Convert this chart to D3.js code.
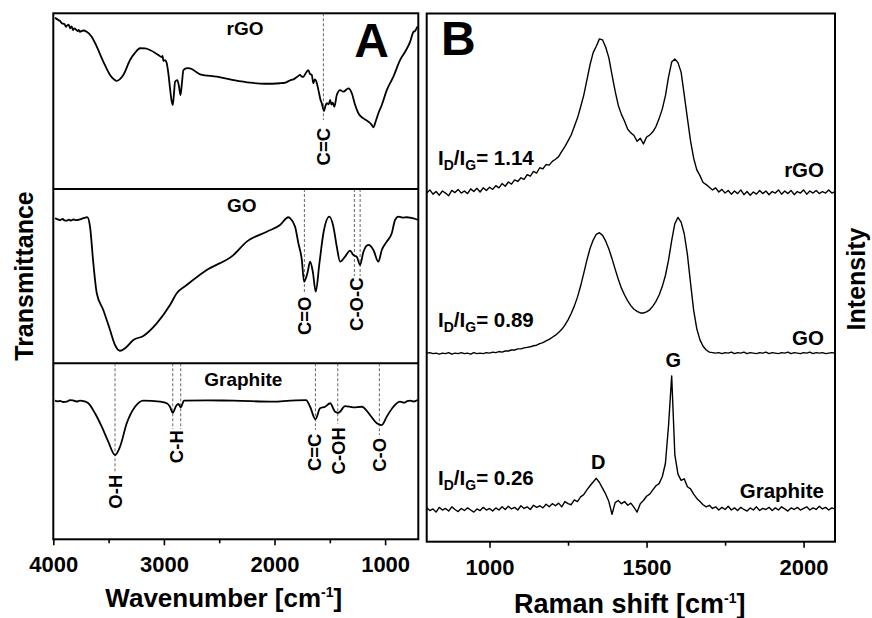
<!DOCTYPE html>
<html><head><meta charset="utf-8">
<script src="https://cdn.jsdelivr.net/npm/d3@7"></script>
<style>
body{margin:0;background:#fff}
svg{display:block}
text{font-family:"Liberation Sans",Arial,Helvetica,sans-serif;font-weight:bold;fill:#000}
</style>
</head><body>
<svg id="c" width="872" height="618"></svg>
<script>
// ---------------- DATA ----------------
// FTIR (panel A): [wavenumber cm^-1, transmittance a.u. (0-100 within each strip)]
const irRGO = [[3985,97.5],[3960,96.4],[3939,95.6],[3920,94.2],[3900,93.9],[3885,92.3],[3879,92.8],[3860,93.6],[3849,91.5],[3835,92.5],[3822,90.5],[3810,91.4],[3800,91.1],[3780,89.9],[3770,90.6],[3759,89.5],[3730,90.2],[3698,89.5],[3653,86.7],[3607,81.0],[3548,72.5],[3487,64.9],[3450,62.3],[3427,61.5],[3400,62.4],[3367,64.9],[3306,73.4],[3260,77.6],[3216,80.1],[3170,80.0],[3126,79.1],[3050,76.3],[3020,75.1],[3012,75.8],[3005,72.9],[2990,73.4],[2975,71.7],[2960,65.9],[2945,57.5],[2930,50.0],[2920,47.8],[2910,53.5],[2899,61.1],[2879,62.0],[2864,58.6],[2850,53.5],[2836,60.9],[2824,67.7],[2790,68.8],[2764,68.7],[2673,65.3],[2522,63.9],[2372,62.0],[2221,60.5],[2085,59.9],[1950,60.2],[1900,60.6],[1860,61.8],[1829,62.4],[1800,63.6],[1769,64.9],[1755,64.0],[1739,63.9],[1715,66.2],[1694,67.7],[1680,65.5],[1663,64.9],[1649,60.2],[1636,62.4],[1624,61.6],[1603,56.3],[1585,51.0],[1573,48.8],[1552,44.4],[1540,47.2],[1527,48.8],[1510,48.2],[1497,50.7],[1485,48.0],[1473,49.1],[1459,46.8],[1437,53.5],[1407,56.3],[1377,55.4],[1332,57.3],[1301,54.5],[1271,47.8],[1242,43.1],[1196,40.2],[1151,38.3],[1125,36.8],[1106,35.1],[1085,38.6],[1061,43.1],[1030,47.8],[985,56.3],[925,63.9],[865,73.4],[819,78.1],[774,83.7],[744,89.4],[730,89.9],[708,92.4]];

const irGO = [[3985,83.2],[3960,82.6],[3939,82.2],[3915,82.9],[3900,82.0],[3879,81.8],[3860,82.4],[3840,81.9],[3820,82.5],[3790,82.2],[3759,82.6],[3720,83.4],[3692,83.8],[3668,78.4],[3638,57.4],[3607,40.2],[3548,30.6],[3487,19.1],[3442,10.5],[3397,7.2],[3352,8.6],[3276,13.4],[3186,15.7],[3065,22.9],[2945,33.4],[2884,40.2],[2794,44.9],[2613,53.5],[2372,62.1],[2251,69.8],[2070,75.5],[1950,79.3],[1875,83.8],[1859,83.2],[1814,78.4],[1784,68.8],[1753,59.3],[1733,46.8],[1703,51.6],[1678,58.3],[1654,52.6],[1627,41.1],[1594,57.4],[1558,74.6],[1504,84.1],[1468,78.4],[1437,66.9],[1407,58.3],[1362,61.2],[1317,64.6],[1287,62.1],[1257,61.2],[1226,56.4],[1196,64.0],[1151,67.9],[1106,65.0],[1061,58.3],[1030,65.0],[985,69.8],[940,74.6],[910,82.2],[880,84.1],[840,83.6],[804,83.8],[770,83.5],[744,83.2],[699,82.2]];

const irGraphite = [[3985,78.8],[3960,78.4],[3939,78.6],[3910,78.0],[3879,78.2],[3850,79.1],[3822,78.9],[3790,78.3],[3759,78.8],[3720,78.4],[3683,77.3],[3623,71.6],[3562,64.0],[3503,55.5],[3442,47.9],[3397,52.6],[3336,65.9],[3261,75.3],[3186,78.8],[3035,78.2],[2974,77.3],[2945,75.3],[2920,71.9],[2890,75.7],[2869,76.9],[2848,75.0],[2818,78.8],[2600,78.9],[2372,78.8],[2010,78.2],[1859,78.8],[1715,79.1],[1678,75.3],[1630,68.2],[1588,74.4],[1543,75.3],[1497,77.3],[1452,72.5],[1422,71.9],[1362,75.7],[1287,75.0],[1211,75.3],[1136,70.6],[1075,65.9],[1030,64.9],[985,69.7],[925,75.3],[865,78.2],[830,77.6],[800,78.5],[774,78.8],[740,78.3],[708,79.1]];

// Bond assignments (wavenumbers of dashed markers and labels)
const rgoBondLines = [1558];
const rgoBondLabels = [[1558,"C=C"]];
const goBondLines = [1730, 1278, 1226];
const goBondLabels = [[1730,"C=O"],[1256,"C-O-C"]];
const graphiteBondLines = [3442, 2920, 2848, 1630, 1428, 1052];
const graphiteBondLabels = [[3442,"O-H"],[2884,"C-H"],[1642,"C=C"],[1422,"C-OH"],[1052,"C-O"]];

const irSamples = ["rGO", "GO", "Graphite"];
const irTicks = [4000, 3000, 2000, 1000];
const irMinorTicks = [3500, 2500, 1500];

// Raman (panel B): shift grid 800..2100 step 10, stacked intensity (a.u.)
const ramanShift = d3.range(800, 2101, 10);
const ramanRGO = [
66.0,66.6,65.8,66.3,65.6,66.4,66.0,65.5,66.5,66.1,
66.7,66.0,66.4,65.9,66.8,66.3,66.9,66.2,67.0,66.5,
67.1,66.7,67.4,67.0,67.8,67.3,68.1,67.7,68.5,68.2,
68.9,68.6,69.5,69.2,70.1,69.8,70.8,70.6,71.4,71.3,
72.0,72.4,72.9,73.9,74.8,75.9,77.0,78.6,80.2,82.3,
84.5,87.4,90.3,92.6,93.8,95.2,95.0,93.6,91.6,88.4,
85.3,82.6,80.9,79.6,78.1,77.4,76.9,75.8,76.4,75.3,
76.6,77.0,77.6,78.6,80.1,81.9,84.4,88.0,90.8,91.4,
90.7,88.9,84.6,80.2,75.9,72.6,70.4,69.3,68.0,67.6,
67.1,66.6,67.0,66.2,66.7,66.0,66.5,65.8,66.4,65.9,
66.6,65.7,66.3,65.6,66.2,65.8,66.5,65.9,66.4,65.7,
66.3,66.0,66.6,65.8,66.4,65.9,66.5,65.7,66.3,66.0,
66.6,65.8,66.4,66.0,66.5,65.9,66.3,66.0,66.6,66.0,
66.3];
const ramanGO = [
35.7,35.8,35.6,35.7,35.5,35.7,35.6,35.8,35.5,35.7,
35.6,35.8,35.6,35.7,35.5,35.8,35.6,35.7,35.6,35.8,
35.7,35.9,35.8,36.0,35.9,36.1,36.1,36.3,36.3,36.5,
36.5,36.7,36.8,36.9,37.1,37.2,37.5,37.7,38.0,38.3,
38.7,39.1,39.6,40.2,41.0,42.0,43.2,44.6,46.3,48.4,
50.8,53.3,55.5,57.1,58.2,58.5,58.0,56.9,55.4,53.6,
51.6,49.7,48.0,46.7,45.6,44.7,44.0,43.6,43.3,43.3,
43.5,43.9,44.6,45.5,46.7,48.3,50.4,53.3,57.0,60.2,
61.4,60.5,58.3,54.4,49.0,43.8,40.3,38.2,37.0,36.3,
35.9,35.8,35.7,35.8,35.6,35.8,35.7,35.9,35.6,35.8,
35.7,35.9,35.6,35.8,35.7,35.6,35.8,35.7,35.9,35.6,
35.8,35.7,35.6,35.8,35.7,35.9,35.6,35.8,35.7,35.6,
35.8,35.7,35.9,35.6,35.8,35.7,35.8,35.6,35.7,35.8,
35.7];
const ramanGraphite = [
6.4,5.9,6.2,5.6,6.5,6.0,6.3,5.8,6.6,6.1,
5.7,6.3,5.9,6.4,6.0,5.6,6.2,5.9,6.5,6.0,
6.3,5.8,6.4,6.0,6.6,6.1,6.7,6.2,6.5,6.0,
6.8,6.3,6.6,6.1,6.9,6.5,6.8,6.4,7.1,6.6,
7.2,6.8,7.3,6.6,7.6,7.2,7.0,7.9,7.6,8.5,
8.9,9.8,10.6,11.3,12.0,11.2,10.1,9.0,7.6,5.2,
7.4,7.8,7.2,7.6,6.9,7.3,6.5,5.6,7.2,7.8,
8.6,9.0,9.8,10.6,11.0,12.3,14.8,22.0,31.4,16.5,
12.8,11.6,11.9,10.4,10.0,9.0,8.2,7.6,7.0,6.6,
6.9,6.3,6.6,6.0,6.5,6.1,6.7,6.0,6.4,5.9,
6.5,6.1,5.8,6.4,6.0,6.6,5.9,6.3,6.1,6.5,
5.9,6.4,6.0,6.6,6.2,5.8,6.4,6.1,6.5,6.0,
6.3,6.6,6.0,6.4,6.1,6.7,6.2,6.5,6.0,6.4,
6.2];
const ramanSamples = ["rGO", "GO", "Graphite"];
const ramanRatios = ["1.14", "0.89", "0.26"];
const ramanTicks = [1000, 1500, 2000];
const ramanMinorTicks = [1250, 1750];

// ---------------- LAYOUT ----------------
const A = {l:53.3, r:418.3, edges:[13.3, 189, 363.3, 539.3]};
const B = {l:426.7, r:835, t:13.5, b:541.7};
const LAY = {
  irNameX:[245, 241.7, 243.3], irNameBase:[21.7, 23.3, 22.4],
  lineEnd:[[106.7],[105,87,87],[108.7,65.7,65.7,66.7,60.7,71.7]],
  labelY:[[133.4],[126.8,115.2],[128.4,83.4,89,87.5,91.5]],
  ramanRatioBase:[165, 327, 485], ramanNameBase:[177, 345, 498]
};

const svg = d3.select("#c");
const xA = d3.scaleLinear().domain([4000, 700]).range([A.l, A.r]);
const irData = [irRGO, irGO, irGraphite];
const irLines = [rgoBondLines, goBondLines, graphiteBondLines];
const irLabels = [rgoBondLabels, goBondLabels, graphiteBondLabels];

irData.forEach((data, i) => {
  const top = A.edges[i], bot = A.edges[i+1];
  const y = d3.scaleLinear().domain([0, 100]).range([bot, top]);
  const g = svg.append("g");
  irLines[i].forEach((wn, j) => {
    g.append("line").attr("x1", xA(wn)).attr("x2", xA(wn))
      .attr("y1", top).attr("y2", top + LAY.lineEnd[i][j])
      .attr("stroke", "#555").attr("stroke-width", 0.9).attr("stroke-dasharray", "3,2");
  });
  irLabels[i].forEach(([wn, lab], j) => {
    g.append("text").attr("transform", `translate(${xA(wn)},${top + LAY.labelY[i][j]}) rotate(-90)`)
      .attr("text-anchor", "middle").attr("dominant-baseline", "central")
      .style("font-size", "18.5px").text(lab);
  });
  g.append("path").datum(data)
    .attr("d", d3.line().x(d => xA(d[0])).y(d => y(d[1])).curve(d3.curveMonotoneX))
    .attr("fill", "none").attr("stroke", "#000").attr("stroke-width", 1.8).attr("stroke-linejoin", "round");
  g.append("text").attr("x", LAY.irNameX[i]).attr("y", top + LAY.irNameBase[i])
    .attr("text-anchor", "middle").style("font-size", "19px").text(irSamples[i]);
  if (i > 0) svg.append("line").attr("x1", A.l).attr("x2", A.r).attr("y1", top).attr("y2", top)
    .attr("stroke", "#000").attr("stroke-width", 2);
});
svg.append("rect").attr("x", A.l).attr("y", A.edges[0]).attr("width", A.r - A.l)
  .attr("height", A.edges[3] - A.edges[0]).attr("fill", "none").attr("stroke", "#000").attr("stroke-width", 2);

function styleAxis(g, fs) {
  g.select(".domain").remove();
  g.selectAll(".tick line").attr("stroke", "#000").attr("stroke-width", 1.6);
  g.selectAll(".tick text").style("font-size", fs + "px").attr("fill", "#000");
}
const axA = svg.append("g").attr("transform", `translate(0,${A.edges[3]})`)
  .call(d3.axisBottom(xA).tickValues(irTicks).tickSize(6).tickPadding(11).tickFormat(d3.format("d")));
styleAxis(axA, 22);
const axAm = svg.append("g").attr("transform", `translate(0,${A.edges[3]})`)
  .call(d3.axisBottom(xA).tickValues(irMinorTicks).tickSize(4).tickFormat(""));
styleAxis(axAm, 22);

svg.append("text").attr("x", 371.7).attr("y", 56.7).attr("text-anchor", "middle").style("font-size", "48px").text("A");
svg.append("text").attr("transform", "translate(33,276) rotate(-90)").attr("text-anchor", "middle")
  .style("font-size", "25px").text("Transmittance");
const tA = svg.append("text").attr("x", 223.8).attr("y", 607.3).attr("text-anchor", "middle").style("font-size", "26px");
tA.append("tspan").text("Wavenumber [cm");
tA.append("tspan").attr("dy", -10).style("font-size", "14px").text("-1");
tA.append("tspan").attr("dy", 10).text("]");

// ---------------- Panel B ----------------
const xB = d3.scaleLinear().domain([800, 2100]).range([B.l, B.r]);
const yB = d3.scaleLinear().domain([0, 100]).range([B.b, B.t]);
const ramanData = [ramanRGO, ramanGO, ramanGraphite];
ramanData.forEach((vals, i) => {
  svg.append("path").datum(vals)
    .attr("d", d3.line().x((d, k) => xB(ramanShift[k])).y(d => yB(d)))
    .attr("fill", "none").attr("stroke", "#000").attr("stroke-width", 1.4).attr("stroke-linejoin", "round");
  const t = svg.append("text").attr("x", 438).attr("y", LAY.ramanRatioBase[i]).style("font-size", "20.5px");
  t.append("tspan").text("I");
  t.append("tspan").attr("dy", 5).style("font-size", "14px").text("D");
  t.append("tspan").attr("dy", -5).text("/I");
  t.append("tspan").attr("dy", 5).style("font-size", "14px").text("G");
  t.append("tspan").attr("dy", -5).text("= " + ramanRatios[i]);
  svg.append("text").attr("x", 824).attr("y", LAY.ramanNameBase[i]).attr("text-anchor", "end")
    .style("font-size", "20.5px").text(ramanSamples[i]);
});
svg.append("text").attr("x", 598.3).attr("y", 469).attr("text-anchor", "middle").style("font-size", "20px").text("D");
svg.append("text").attr("x", 673.3).attr("y", 366.7).attr("text-anchor", "middle").style("font-size", "20px").text("G");
svg.append("rect").attr("x", B.l).attr("y", B.t).attr("width", B.r - B.l).attr("height", B.b - B.t)
  .attr("fill", "none").attr("stroke", "#000").attr("stroke-width", 2);
const axB = svg.append("g").attr("transform", `translate(0,${B.b})`)
  .call(d3.axisBottom(xB).tickValues(ramanTicks).tickSize(6).tickPadding(12).tickFormat(d3.format("d")));
styleAxis(axB, 22);
const axBm = svg.append("g").attr("transform", `translate(0,${B.b})`)
  .call(d3.axisBottom(xB).tickValues(ramanMinorTicks).tickSize(4).tickFormat(""));
styleAxis(axBm, 22);
svg.append("text").attr("x", 441).attr("y", 55).style("font-size", "48px").text("B");
svg.append("text").attr("transform", "translate(865,279) rotate(-90)").attr("text-anchor", "middle")
  .style("font-size", "25px").text("Intensity");
const tB = svg.append("text").attr("x", 629.8).attr("y", 613).attr("text-anchor", "middle").style("font-size", "27px");
tB.append("tspan").text("Raman shift [cm");
tB.append("tspan").attr("dy", -10).style("font-size", "14px").text("-1");
tB.append("tspan").attr("dy", 10).text("]");
</script>
</body></html>
